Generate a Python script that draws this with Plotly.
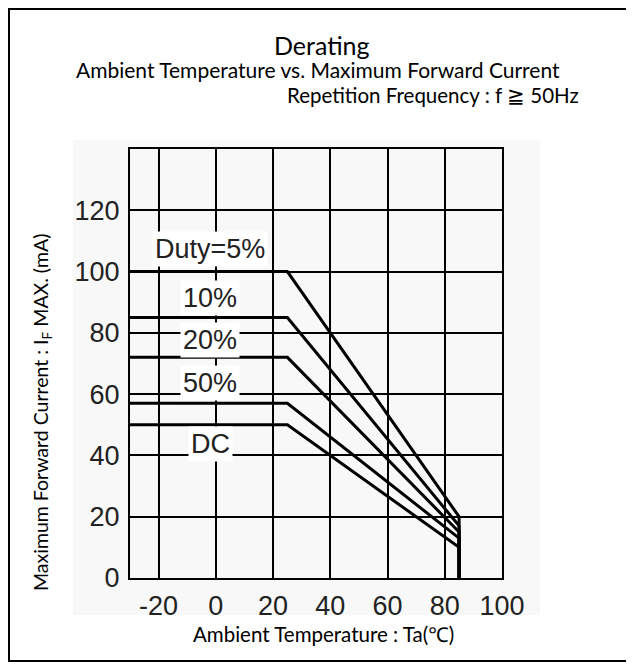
import plotly.graph_objects as go

# ---- data ----
series_names = ["Duty=5%", "10%", "20%", "50%", "DC"]
temps = [-30, 25, 85, 85]                      # Ta (°C): flat start, knee, end, drop
current_5 = [100, 100, 20, 0]
current_10 = [85, 85, 17, 0]
current_20 = [72, 72, 15, 0]
current_50 = [57, 57, 13, 0]
current_dc = [50, 50, 10, 0]
label_x = [-2, -2, -2, -2, -2]
label_y = [107.5, 91.3, 77.7, 63.5, 43.7]
x_ticks = [-20, 0, 20, 40, 60, 80, 100]
x_tick_text = ["-20", "0", "20", "40", "60", "80", "100"]
y_ticks = [0, 20, 40, 60, 80, 100, 120]

OFF = 8  # default page body margin
W, H = 634 - OFF, 666 - OFF
L, R, T, B = 130 - OFF, 502 - OFF, 149 - OFF, 578 - OFF  # plot area in pixels


def px(x):
    return (x - OFF - L) / (R - L)


def py(y):
    return (B - (y - OFF)) / (B - T)


fig = go.Figure()
for vals in [current_5, current_10, current_20, current_50, current_dc]:
    fig.add_trace(go.Scatter(x=temps, y=vals, mode="lines",
                             line=dict(color="black", width=3),
                             showlegend=False, hoverinfo="skip"))

tick_font = dict(family="Liberation Sans, Arial", size=27, color="#222")
ax_common = dict(showgrid=True, gridcolor="black", gridwidth=2,
                 showline=True, linecolor="black", linewidth=2, mirror=True,
                 zeroline=False, ticks="", tickfont=tick_font)

fig.update_xaxes(range=[-30, 100], tickvals=x_ticks, ticktext=x_tick_text,
                 ticklabelstandoff=3, **ax_common)
fig.update_yaxes(range=[0, 140], tickvals=y_ticks, ticklabelstandoff=3, **ax_common)

annotations = []
for name, lx, ly in zip(series_names, label_x, label_y):
    annotations.append(dict(x=lx, y=ly, xref="x", yref="y", text=name,
                            showarrow=False, bgcolor="white", borderpad=2,
                            font=dict(family="Liberation Sans, Arial", size=27, color="#222")))

title_font = "Lato, Noto Sans, sans-serif"
annotations += [
    dict(x=px(322), y=py(45), xref="paper", yref="paper", text="Derating",
         showarrow=False, font=dict(family=title_font, size=25, color="black"),
         xanchor="center", yanchor="middle"),
    dict(x=px(318), y=py(70), xref="paper", yref="paper",
         text="Ambient Temperature vs. Maximum Forward Current",
         showarrow=False, font=dict(family=title_font, size=21, color="black"),
         xanchor="center", yanchor="middle"),
    dict(x=px(581), y=py(95), xref="paper", yref="paper",
         text="Repetition Frequency : f ≧ 50Hz",
         showarrow=False, font=dict(family=title_font, size=20.5, color="black"),
         xanchor="right", yanchor="middle"),
    dict(x=px(323), y=py(634), xref="paper", yref="paper",
         text="Ambient Temperature : Ta(℃)",
         showarrow=False, font=dict(family=title_font, size=20.5, color="black"),
         xanchor="center", yanchor="middle"),
    dict(x=px(42), y=py(413), xref="paper", yref="paper",
         text="Maximum Forward Current : I<sub>F</sub> MAX. (mA)",
         showarrow=False, textangle=-90,
         font=dict(family=title_font, size=19.5, color="black"),
         xanchor="center", yanchor="middle"),
]

shapes = [
    dict(type="rect", xref="paper", yref="paper", layer="below",
         x0=px(73), x1=px(540), y0=py(615), y1=py(140),
         fillcolor="#f8f8f8", line=dict(width=0)),
    dict(type="rect", xref="paper", yref="paper", layer="above",
         x0=px(OFF + 1), x1=px(629), y0=py(661), y1=py(OFF + 1),
         fillcolor="rgba(0,0,0,0)", line=dict(color="black", width=2)),
]

fig.update_layout(width=W, height=H,
                  margin=dict(l=L, r=W - R, t=T, b=H - B, autoexpand=False),
                  paper_bgcolor="white", plot_bgcolor="white",
                  annotations=annotations, shapes=shapes)

fig.write_html("out.html")
